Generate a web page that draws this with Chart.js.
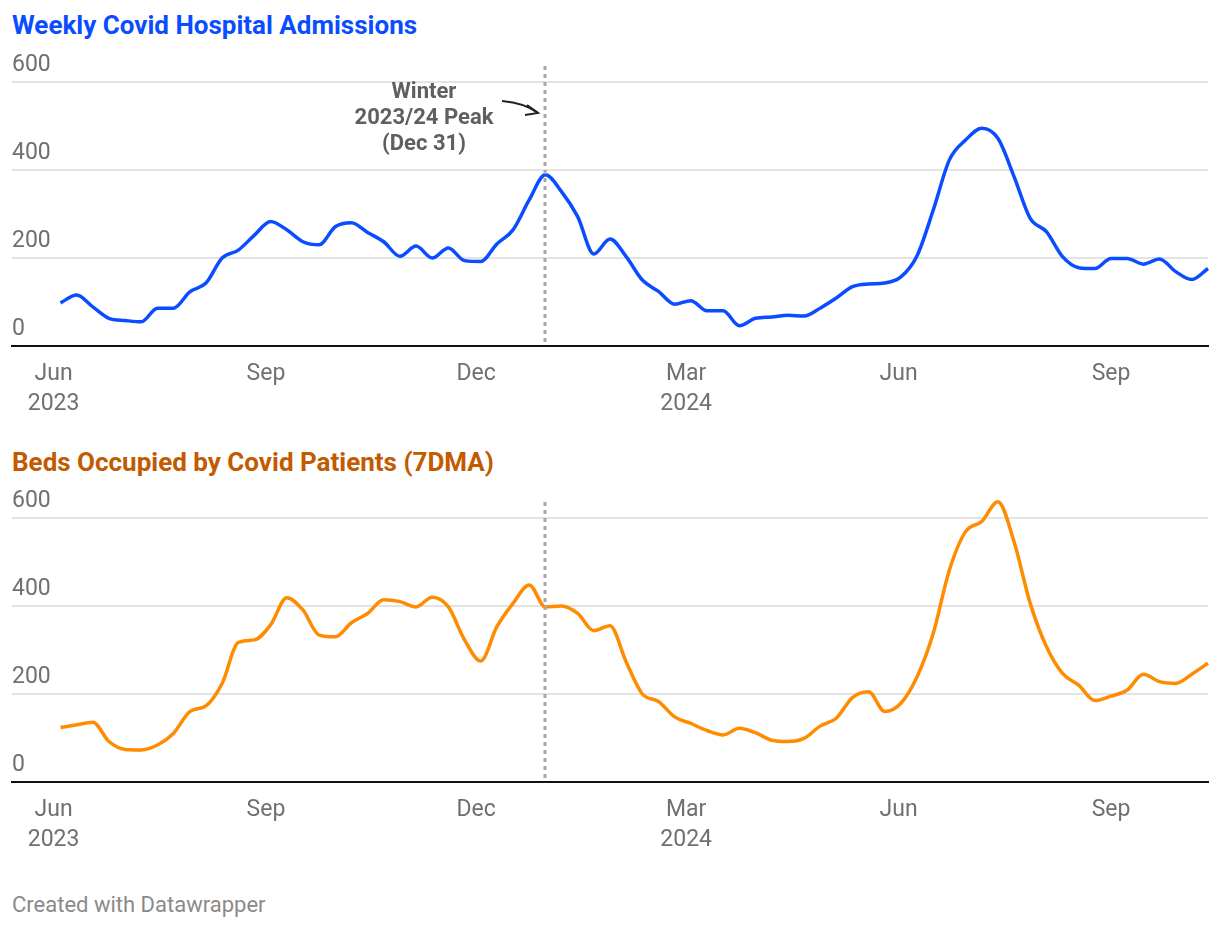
<!DOCTYPE html>
<html>
<head>
<meta charset="utf-8">
<script src="https://cdn.jsdelivr.net/npm/chart.js@4.4.1/dist/chart.umd.min.js"></script>
<style>
  body { margin: 0; background: #fff; font-family: Roboto, sans-serif; }
  #wrap { position: relative; width: 1220px; height: 930px; }
  .title { position: absolute; left: 12px; font-weight: 700; font-size: 26px; line-height: 30px; }
  #t1 { top: 10px; color: #0a4cff; }
  #t2 { top: 447px; color: #c25a00; }
  #foot { position: absolute; left: 12px; top: 892px; font-size: 22px; line-height: 26px; color: #8a8a8a; }
  canvas { position: absolute; left: 0; }
  #c1 { top: 40px; }
  #c2 { top: 476px; }
</style>
</head>
<body>
<div id="wrap">
  <div class="title" id="t1">Weekly Covid Hospital Admissions</div>
  <canvas id="c1" width="1220" height="386"></canvas>
  <div class="title" id="t2">Beds Occupied by Covid Patients (7DMA)</div>
  <canvas id="c2" width="1220" height="386"></canvas>
  <div id="foot">Created with Datawrapper</div>
</div>
<script>
// days since 1 Jun 2023, one point per week (Sundays from 4 Jun 2023 to 13 Oct 2024)
const firstDay = 3;
const admissions = [98, 116, 89, 63, 58, 55, 86, 86, 123, 143,
  200, 218, 252, 283, 264, 237, 230, 271, 280, 258,
  237, 204, 227, 200, 223, 194, 192, 232, 264, 332,
  389, 351, 294, 209, 243, 203, 150, 124, 95, 103,
  80, 80, 46, 63, 66, 70, 68, 86, 109, 135,
  141, 143, 157, 205, 309, 423, 468, 495, 472, 385,
  290, 260, 203, 178, 176, 199, 199, 186, 198, 169,
  151, 176];
const beds = [124, 130, 136, 92, 74, 73, 84, 111, 160, 173,
  224, 317, 323, 357, 419, 391, 334, 330, 362, 383,
  414, 410, 398, 420, 398, 323, 275, 353, 406, 448,
  398, 400, 383, 344, 355, 273, 200, 183, 148, 133,
  117, 107, 122, 112, 95, 92, 99, 127, 145, 192,
  205, 160, 179, 239, 338, 482, 569, 592, 637, 546,
  406, 308, 247, 220, 185, 195, 209, 245, 228, 224,
  245, 270];
const tickDays = [0, 92, 183, 274, 366, 458];
const tickLabels = [['Jun', '2023'], 'Sep', 'Dec', ['Mar', '2024'], 'Jun', 'Sep'];
const yTicks = [0, 200, 400, 600];
const peakDay = 213; // 31 Dec 2023
const peakNote = ['Winter', '2023/24 Peak', '(Dec 31)'];

function toPoints(values) {
  return values.map((v, i) => ({ x: firstDay + 7 * i, y: v }));
}

const peakLine = {
  id: 'peakLine',
  afterDatasetsDraw(chart, args, opts) {
    const c = chart.ctx;
    const x = Math.round(chart.scales.x.getPixelForValue(peakDay));
    const area = chart.chartArea;
    c.save();
    c.strokeStyle = '#a8a8a8';
    c.lineWidth = 3;
    c.setLineDash([4, 4]);
    c.beginPath();
    c.moveTo(x, area.top - 16);
    c.lineTo(x, area.bottom);
    c.stroke();
    c.setLineDash([]);
    if (opts.note) {
      c.fillStyle = '#5f5f5f';
      c.font = 'bold 22px Roboto';
      c.textAlign = 'center';
      c.textBaseline = 'middle';
      peakNote.forEach((t, i) => c.fillText(t, x - 121, area.top + 10 + i * 26));
      // arrow
      c.strokeStyle = '#222';
      c.lineWidth = 2;
      c.beginPath();
      c.moveTo(x - 43, area.top + 19);
      c.quadraticCurveTo(x - 20, area.top + 21, x - 7, area.top + 31);
      c.stroke();
      c.beginPath();
      c.moveTo(x - 18, area.top + 23);
      c.lineTo(x - 7, area.top + 31);
      c.lineTo(x - 20, area.top + 33);
      c.stroke();
    }
    c.restore();
  }
};

function makeChart(id, values, color, note) {
  return new Chart(document.getElementById(id), {
    type: 'line',
    data: {
      datasets: [{
        data: toPoints(values),
        borderColor: color,
        borderWidth: 3.5,
        pointRadius: 0,
        cubicInterpolationMode: 'monotone',
        clip: false,
        fill: false
      }]
    },
    options: {
      responsive: false,
      animation: false,
      layout: { padding: { left: 12, right: 12, top: 42, bottom: 0 } },
      plugins: { legend: { display: false }, tooltip: { enabled: false }, peakLine: { note } },
      scales: {
        x: {
          type: 'linear',
          min: -18,
          max: 500,
          grid: { display: false, drawTicks: false },
          border: { display: true, color: '#111', width: 2 },
          afterBuildTicks: s => { s.ticks = tickDays.map(v => ({ value: v })); },
          afterFit: s => { s.height = 80; },
          ticks: {
            padding: 13,
            color: '#707070',
            font: { family: 'Roboto', size: 23, lineHeight: 1.3 },
            maxRotation: 0,
            autoSkip: false,
            callback: (v) => tickLabels[tickDays.indexOf(v)]
          }
        },
        y: {
          min: 0,
          max: 600,
          afterBuildTicks: s => { s.ticks = yTicks.map(v => ({ value: v })); },
          grid: {
            drawTicks: false,
            color: ctx => ctx.tick && ctx.tick.value === 0 ? 'rgba(0,0,0,0)' : '#e3e3e3',
            lineWidth: 2
          },
          border: { display: false },
          ticks: {
            mirror: true,
            padding: 0,
            labelOffset: -17,
            color: '#707070',
            font: { family: 'Roboto', size: 23 }
          }
        }
      }
    },
    plugins: [peakLine]
  });
}

makeChart('c1', admissions, '#0a4cff', true);
makeChart('c2', beds, '#ff8c00', false);
</script>
</body>
</html>
